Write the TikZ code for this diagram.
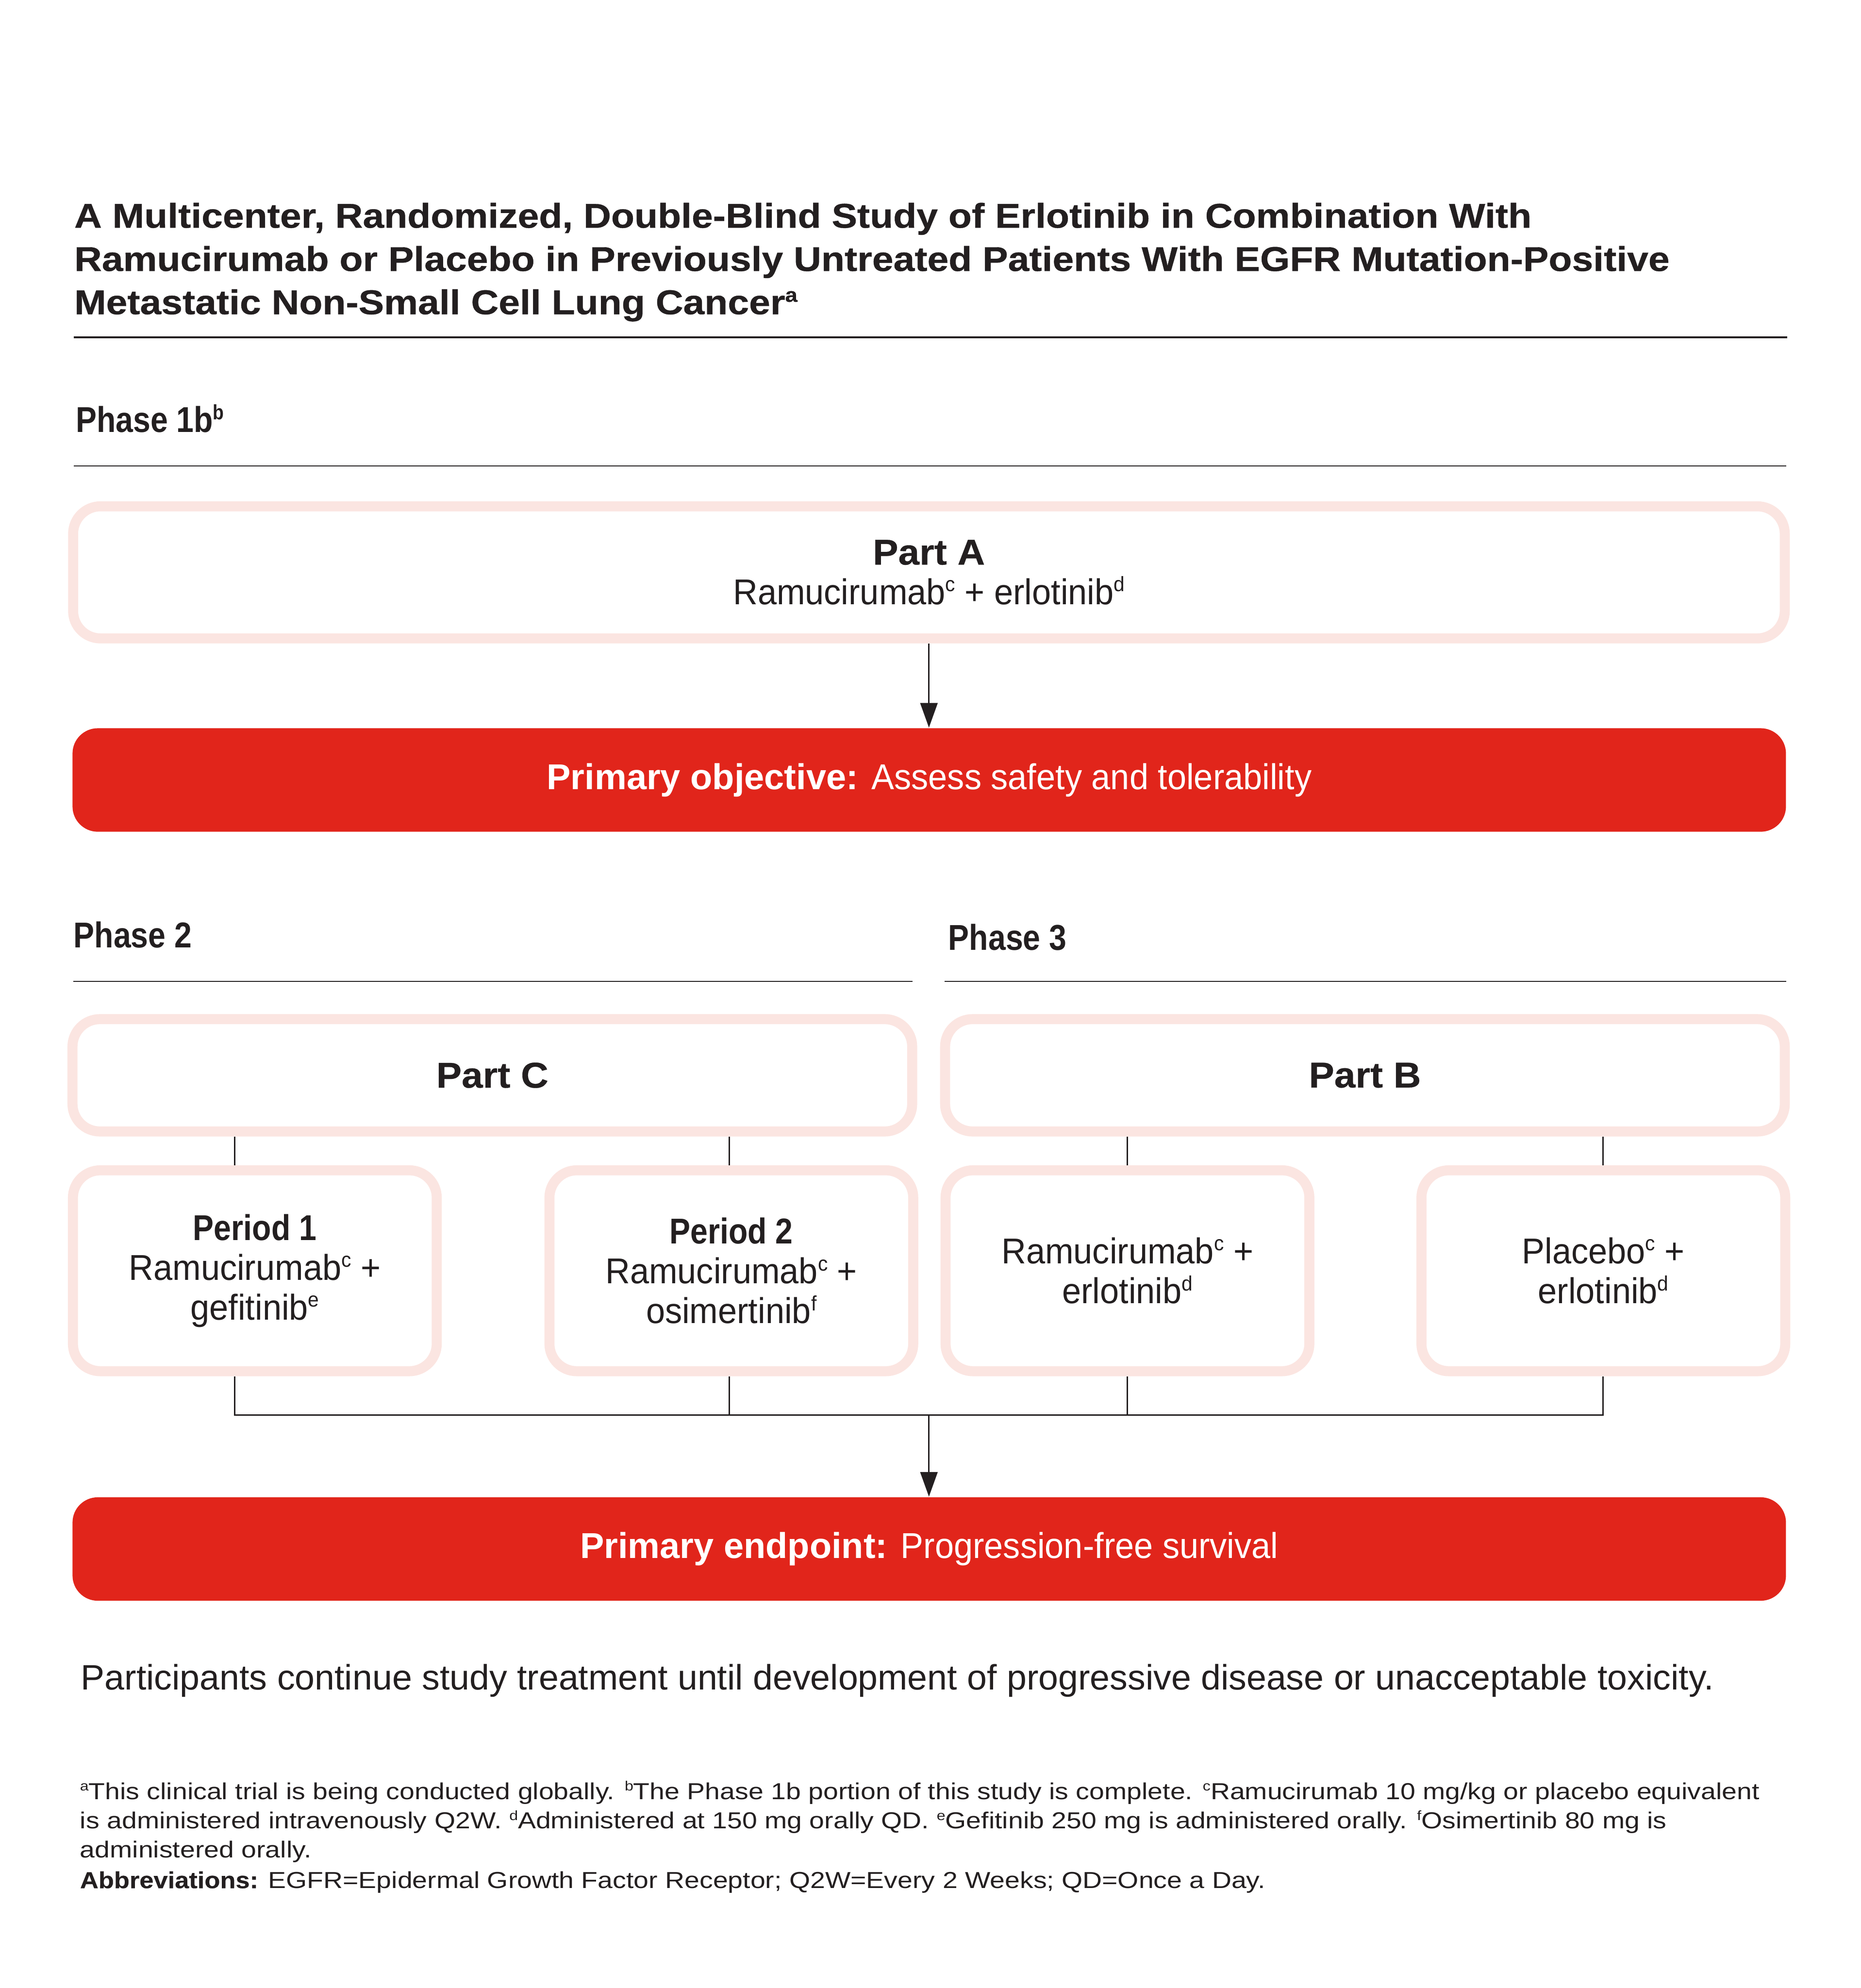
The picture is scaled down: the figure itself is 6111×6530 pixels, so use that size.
\documentclass[tikz,border=0pt]{standalone}
\usepackage{fontspec}
\usepackage{graphicx}
\setmainfont{Liberation Sans}
\newfontfamily\titlefam{Liberation Sans Bold}[FakeStretch=1.11,FakeBold=0.6]
\newfontfamily\widefam{Liberation Sans Bold}[FakeStretch=1.06,FakeBold=0.4]
\newfontfamily\condfam{Liberation Sans}[FakeStretch=0.87]
\newfontfamily\boxfam{Liberation Sans}[FakeStretch=0.95]
\newfontfamily\notefam{Liberation Sans}[FakeStretch=1.163]
\newfontfamily\partfam{Liberation Sans}[FakeStretch=1.01]
\usetikzlibrary{arrows.meta}
\definecolor{lred}{RGB}{225,37,27}
\definecolor{lpink}{RGB}{251,229,225}
\definecolor{ink}{RGB}{35,31,32}
\newcommand\sps[1]{\raisebox{0.36em}{\scalebox{0.58}{#1}}}
\newcommand\bodyfnt{\fontsize{11.8}{13.1}\selectfont\boxfam}
\newcommand\titlefnt{\fontsize{11.3}{14.2}\selectfont\titlefam}
\newcommand\notefnt{\fontsize{7.6}{9.7}\selectfont\notefam}
\newcommand\wideb[1]{{\widefam #1}}
\newcommand\condb[1]{{\condfam\bfseries #1}}
\begin{document}
\begin{tikzpicture}[x=0.1pt,y=-0.1pt,
  pinkbox/.style={draw=lpink, line width=3.3pt, fill=white, rounded corners=9pt,
    align=center, text=ink, inner sep=0pt, font=\bodyfnt},
  redbox/.style={fill=lred, rounded corners=8.3pt, text=white, inner sep=0pt,
    minimum width=562.8pt, minimum height=34pt, font=\fontsize{11.8}{13.1}\selectfont},
  txt/.style={anchor=base west, inner sep=0pt, text=ink},
  rulethin/.style={draw=ink, line width=0.35pt},
  conn/.style={draw=ink, line width=0.45pt},
  arr/.style={conn, -{Triangle[width=5.7pt,length=8.1pt]}}]
\useasboundingbox (0,0) rectangle (6111,6530);
% title
\node[txt, font=\titlefnt] (t1) at (242,748) {A Multicenter, Randomized, Double-Blind Study of Erlotinib in Combination With};
\node[txt, font=\titlefnt] (t2) at (242,890) {Ramucirumab or Placebo in Previously Untreated Patients With EGFR Mutation-Positive};
\node[txt, font=\titlefnt] (t3) at (242,1032) {Metastatic Non-Small Cell Lung Cancer\sps{a}};
\draw[draw=ink, line width=0.7pt] (242,1108) -- (5870,1108);
% phase 1b
\node[txt, font=\fontsize{11.8}{13.1}\selectfont] (ph1) at (247,1420) {\condb{Phase 1b\sps{b}}};
\draw[rulethin] (242,1531) -- (5866,1531);
\node[pinkbox, minimum width=562.2pt, minimum height=43.4pt] (partA) at (3051,1880)
  {\wideb{Part A}\\Ramucirumab\sps{c} + erlotinib\sps{d}};
\node[redbox] (po) at (3052,2562) {\textbf{Primary objective:} {\boxfam Assess safety and tolerability}};
% phase 2 / 3
\node[txt, font=\fontsize{11.8}{13.1}\selectfont] (ph2) at (240,3112) {\condb{Phase 2}};
\node[txt, font=\fontsize{11.8}{13.1}\selectfont] (ph3) at (3113,3120) {\condb{Phase 3}};
\draw[rulethin] (240,3223) -- (2997,3223);
\draw[rulethin] (3102,3223) -- (5866,3223);
\node[pinkbox, minimum width=275.8pt, minimum height=36.9pt] (partC) at (1617,3532) {\wideb{Part C}};
\node[pinkbox, minimum width=275.8pt, minimum height=36.9pt] (partB) at (4483,3532) {\wideb{Part B}};
\node[pinkbox, minimum width=119.5pt, minimum height=66pt] (p1) at (837,4174)
  {\condb{Period 1}\\Ramucirumab\sps{c} +\\gefitinib\sps{e}};
\node[pinkbox, minimum width=119.5pt, minimum height=66pt] (p2) at (2402,4174)
  {\condb{Period 2}\\Ramucirumab\sps{c} +\\osimertinib\sps{f}};
\node[pinkbox, minimum width=119.5pt, minimum height=66pt] (re) at (3703,4174)
  {Ramucirumab\sps{c} +\\erlotinib\sps{d}};
\node[pinkbox, minimum width=119.5pt, minimum height=66pt] (pl) at (5266,4174)
  {Placebo\sps{c} +\\erlotinib\sps{d}};
\node[redbox] (pe) at (3052,5088) {\textbf{Primary endpoint:} {\boxfam Progression-free survival}};
% connectors
\coordinate (j1) at (771,4648);
\coordinate (j2) at (2395,4648);
\coordinate (j3) at (3703,4648);
\coordinate (j4) at (5265,4648);
\coordinate (jm) at (3051,4648);
\draw[arr] (partA.south -| jm) -- (po.north -| jm);
\draw[conn] (partC.south -| j1) -- (p1.north -| j1);
\draw[conn] (partC.south -| j2) -- (p2.north -| j2);
\draw[conn] (partB.south -| j3) -- (re.north -| j3);
\draw[conn] (partB.south -| j4) -- (pl.north -| j4);
\draw[conn] (p1.south -| j1) -- (j1) -- (j4) -- (pl.south -| j4);
\draw[conn] (p2.south -| j2) -- (j2);
\draw[conn] (re.south -| j3) -- (j3);
\draw[arr] (jm) -- (pe.north -| jm);
% bottom text
\node[txt, font=\fontsize{11.6}{13}\selectfont\partfam] (part) at (264,5551) {Participants continue study treatment until development of progressive disease or unacceptable toxicity.};
\node[txt, font=\notefnt] (f1) at (261,5910) {\sps{a}This clinical trial is being conducted globally. \sps{b}The Phase 1b portion of this study is complete. \sps{c}Ramucirumab 10 mg/kg or placebo equivalent};
\node[txt, font=\notefnt] (f2) at (261,6007) {is administered intravenously Q2W. \sps{d}Administered at 150 mg orally QD. \sps{e}Gefitinib 250 mg is administered orally. \sps{f}Osimertinib 80 mg is};
\node[txt, font=\notefnt] (f3) at (261,6102) {administered orally.};
\node[txt, font=\notefnt] (f4) at (261,6202) {{\fontspec{Liberation Sans Bold}[FakeStretch=1.1,FakeBold=0.4]Abbreviations:} EGFR=Epidermal Growth Factor Receptor; Q2W=Every 2 Weeks; QD=Once a Day.};
\end{tikzpicture}
\end{document}
